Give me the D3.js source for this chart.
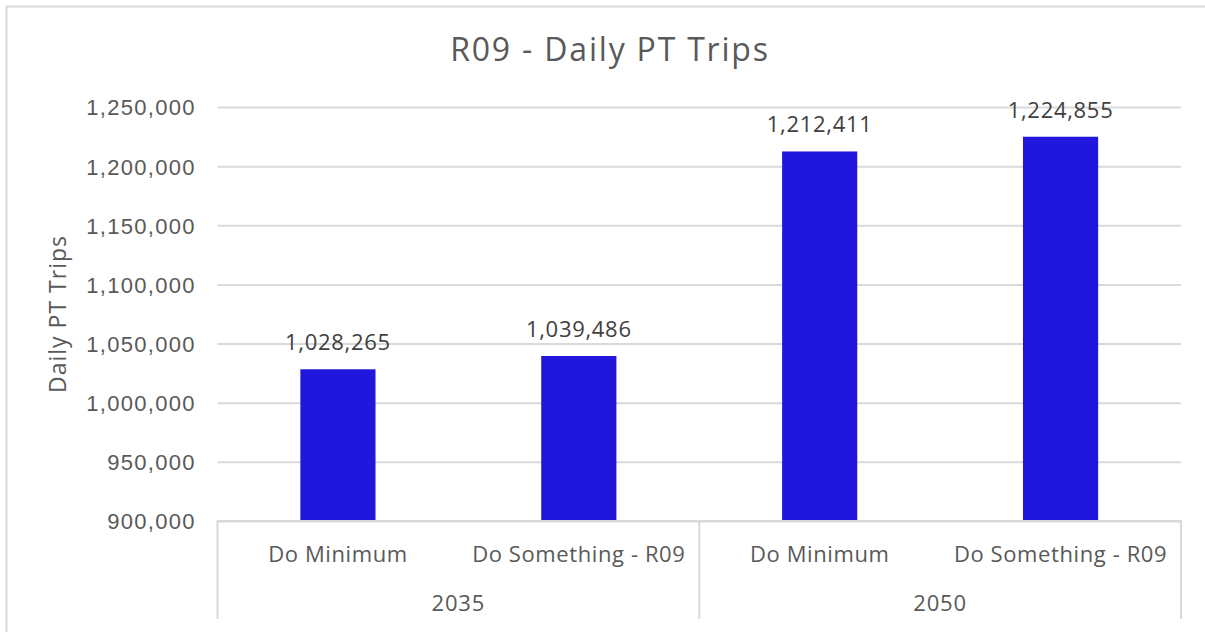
<!DOCTYPE html>
<html>
<head>
<meta charset="utf-8">
<script src="https://cdn.jsdelivr.net/npm/d3@7"></script>
<style>
  html, body { margin: 0; padding: 0; background: #fff; }
  svg { display: block; font-family: "Open Sans", "Noto Sans", sans-serif; }
</style>
</head>
<body>
<svg id="chart" width="1205" height="632"></svg>
<script>
// Chart data
const title = "R09 - Daily PT Trips";
const yAxisTitle = "Daily PT Trips";
const years = ["2035", "2050"];
const scenarios = ["Do Minimum", "Do Something - R09"];
const trips = [1028265, 1039486, 1212411, 1224855];
const yTicks = [900000, 950000, 1000000, 1050000, 1100000, 1150000, 1200000, 1250000];

const rows = [];
years.forEach((yr, i) => scenarios.forEach((sc, j) => {
  rows.push({ key: yr + "|" + sc, year: yr, scenario: sc, value: trips[i * scenarios.length + j] });
}));

const svg = d3.select("#chart");
const textColor = "#595959";
const labelColor = "#404040";
const gridColor = "#d9d9d9";
const barColor = "#2116dc";

// chart frame
svg.append("rect")
  .attr("x", 6.5).attr("y", 6.5)
  .attr("width", 1205).attr("height", 640)
  .attr("fill", "#fff").attr("stroke", gridColor).attr("stroke-width", 2);

const plot = { left: 217.5, right: 1181, top: 107, bottom: 521 };

const x = d3.scaleBand()
  .domain(rows.map(d => d.key))
  .range([plot.left, plot.right])
  .paddingInner(0.688)
  .paddingOuter(0.344);

const y = d3.scaleLinear()
  .domain([900000, 1250000])
  .range([plot.bottom, plot.top]);

const fmt = d3.format(",");

// gridlines and y tick labels via d3 axis
const yAxis = d3.axisLeft(y)
  .tickValues(yTicks)
  .tickFormat(fmt)
  .tickSize(-(plot.right - plot.left))
  .tickPadding(23);

const gy = svg.append("g")
  .attr("transform", `translate(${plot.left},0)`)
  .call(yAxis);
gy.select(".domain").remove();
gy.selectAll(".tick line").attr("stroke", gridColor).attr("stroke-width", 2);
gy.selectAll(".tick text")
  .attr("fill", textColor)
  .attr("dy", "0.36em")
  .attr("dx", 1.3)
  .style("font-size", "22px")
  .style("letter-spacing", "1.3px");

// bars
svg.append("g").selectAll("rect")
  .data(rows)
  .join("rect")
  .attr("x", d => x(d.key))
  .attr("width", x.bandwidth())
  .attr("y", d => y(d.value))
  .attr("height", d => y(900000) - y(d.value))
  .attr("fill", barColor);

// value labels
svg.append("g").selectAll("text")
  .data(rows)
  .join("text")
  .attr("x", d => x(d.key) + x.bandwidth() / 2)
  .attr("y", d => y(d.value) - 19)
  .attr("text-anchor", "middle")
  .attr("fill", labelColor)
  .style("font-size", "22px")
  .style("letter-spacing", "0.7px")
  .text(d => fmt(d.value));

// category axis: baseline and group separators
const axisG = svg.append("g").attr("stroke", gridColor).attr("stroke-width", 2);
axisG.append("line")
  .attr("x1", plot.left - 1).attr("x2", plot.right + 1)
  .attr("y1", plot.bottom).attr("y2", plot.bottom);

const step = x.step();
const groupBounds = [0, scenarios.length, rows.length].map(i => plot.left + i * step);
axisG.selectAll("line.sep")
  .data(groupBounds)
  .join("line")
  .attr("class", "sep")
  .attr("x1", d => d).attr("x2", d => d)
  .attr("y1", plot.bottom).attr("y2", 619);

// scenario labels
svg.append("g").selectAll("text")
  .data(rows)
  .join("text")
  .attr("x", d => x(d.key) + x.bandwidth() / 2)
  .attr("y", 562)
  .attr("text-anchor", "middle")
  .attr("fill", textColor)
  .style("font-size", "22px")
  .style("letter-spacing", "0.6px")
  .text(d => d.scenario);

// year labels
svg.append("g").selectAll("text")
  .data(years)
  .join("text")
  .attr("x", (d, i) => (groupBounds[i] + groupBounds[i + 1]) / 2)
  .attr("y", 611)
  .attr("text-anchor", "middle")
  .attr("fill", textColor)
  .style("font-size", "22px")
  .style("letter-spacing", "0.9px")
  .text(d => d);

// y axis title
svg.append("text")
  .attr("transform", `translate(66,${(plot.top + plot.bottom) / 2}) rotate(-90)`)
  .attr("text-anchor", "middle")
  .attr("fill", textColor)
  .style("font-size", "23px")
  .style("letter-spacing", "1px")
  .text(yAxisTitle);

// chart title
svg.append("text")
  .attr("x", 610)
  .attr("y", 61)
  .attr("text-anchor", "middle")
  .attr("fill", textColor)
  .style("font-size", "32px")
  .style("letter-spacing", "1.8px")
  .text(title);
</script>
</body>
</html>
